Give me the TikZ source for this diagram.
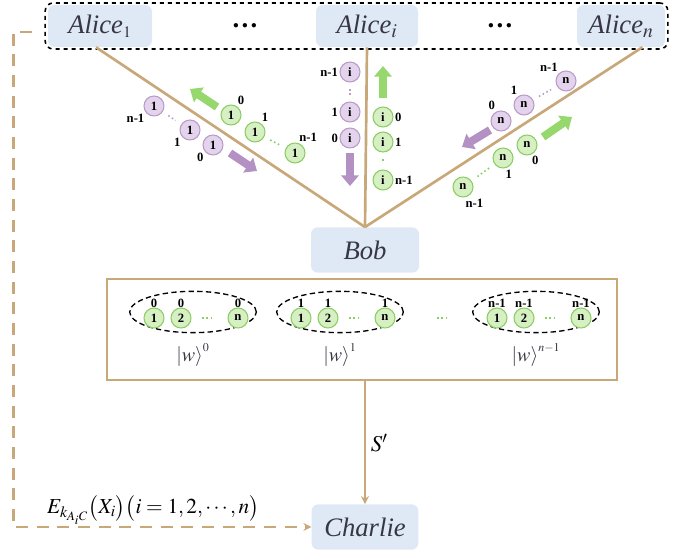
\documentclass[tikz,border=0pt]{standalone}
\usepackage{mathptmx}
\usepackage{fontspec}
\setmainfont{Liberation Serif}
\usetikzlibrary{arrows.meta,shapes.geometric,positioning}

\definecolor{linkbrown}{RGB}{200,168,120}
\definecolor{partyblue}{RGB}{222,233,245}
\definecolor{namegray}{RGB}{55,55,68}
\definecolor{qgreen}{RGB}{214,240,196}
\definecolor{qgreenline}{RGB}{140,205,100}
\definecolor{qpurple}{RGB}{228,211,236}
\definecolor{qpurpleline}{RGB}{185,155,200}
\definecolor{agreen}{RGB}{150,215,110}
\definecolor{apurple}{RGB}{180,145,195}

\tikzset{
  party/.style={fill=partyblue, rounded corners=5pt, minimum height=31.5pt, inner sep=0pt,
    text=namegray, font=\fontsize{20}{24}\selectfont\itshape},
  link/.style={draw=linkbrown, line width=2pt},
  feed/.style={draw=linkbrown, line width=2pt, dash pattern=on 9pt off 6.5pt,
    -{Stealth[length=6pt,width=6pt]}},
  qg/.style={circle, draw=qgreenline, fill=qgreen, line width=0.8pt, minimum size=15pt,
    inner sep=0pt, font=\bfseries\fontsize{9.5}{10}\selectfont},
  qp/.style={qg, draw=qpurpleline, fill=qpurple},
  every label/.style={font=\bfseries\fontsize{9.5}{10}\selectfont, inner sep=1pt},
  gbig/.style={draw=agreen, line width=6pt, -{Triangle[width=13pt,length=8pt]}},
  pbig/.style={draw=apurple, line width=6pt, -{Triangle[width=13pt,length=8pt]}},
  gdots/.style={draw=qgreenline, dotted, line width=1.2pt, shorten <=5pt, shorten >=5pt},
  pdots/.style={draw=qpurpleline, dotted, line width=1.2pt, shorten <=5pt, shorten >=5pt}
}

\begin{document}
\begin{tikzpicture}[x=0.75pt, y=-0.75pt, >=Stealth]
    \useasboundingbox (0,0) rectangle (677,555);

    % Alices
    \node[party, minimum width=78pt] (a1) at (100,26) {Alice$_{\scriptscriptstyle 1}$};
    \node[party, minimum width=76.5pt] (ai) at (367,26) {Alice$_i$};
    \node[party, minimum width=66pt] (an) at (621,26) {Alice$_n$};
    \node[font=\bfseries\fontsize{20}{24}\selectfont] (d1) at (245,26) {\ldots};
    \node[font=\bfseries\fontsize{20}{24}\selectfont] (d2) at (500,26) {\ldots};
    \node[draw, dashed, rounded corners=6pt, line width=1.2pt,
          minimum width=467pt, minimum height=34.5pt] (row) at (356.5,26) {};

    % Bob and Charlie
    \node[party, minimum width=81pt, minimum height=34pt] (bob) at (365,250) {Bob};
    \node[party, minimum width=80pt, minimum height=34pt] (charlie) at (365,527) {Charlie};

    % Channels
    \draw[link] ([xshift=-3pt]a1.south) -- (bob.north);
    \draw[link] (ai.south) -- (bob.north);
    \draw[link] ([xshift=16pt]an.south) -- (bob.north);

    % Left channel
    \node[qg, label={60:0}] (lg0) at (231,115) {1};
    \node[qg, label={60:1}] (lg1) at (255,132) {1};
    \node[qg, label={75:n-1}] (lgn) at (295,153) {1};
    \draw[gdots] (lg1) -- (lgn);
    \node[qp, label={220:n-1}] (lpn) at (154,106) {1};
    \node[qp, label={220:1}] (lp1) at (190,130) {1};
    \node[qp, label={220:0}] (lp0) at (213,145) {1};
    \draw[pdots] (lpn) -- (lp1);
    \draw[gbig] (217,107) -- (190,89);
    \draw[pbig] (230,153) -- (257,171);

    % Middle channel
    \node[qp, label={180:n-1}] (mpn) at (350,72) {i};
    \node[qp, label={180:1}] (mp1) at (350,112) {i};
    \node[qp, label={180:0}] (mp0) at (350,138) {i};
    \draw[pdots] (mpn) -- (mp1);
    \draw[pbig] (350,153) -- (350,186);
    \node[qg, label={0:0}] (mg0) at (383,117) {i};
    \node[qg, label={0:1}] (mg1) at (383,142) {i};
    \node[qg, label={0:n-1}] (mgn) at (383,180) {i};
    \draw[gdots] (mg1) -- (mgn);
    \draw[gbig] (383,98) -- (383,66);

    % Right channel
    \node[qp, label={130:n-1}] (rpn) at (566,81) {n};
    \node[qp, label={120:1}] (rp1) at (524,105) {n};
    \node[qp, label={115:0}] (rp0) at (501,121) {n};
    \draw[pdots] (rp1) -- (rpn);
    \draw[pbig] (490,130) -- (462,147);
    \node[qg, label={-70:0}] (rg0) at (527,145) {n};
    \node[qg, label={-85:1}] (rg1) at (503,158) {n};
    \node[qg, label={-85:n-1}] (rgn) at (463,187) {n};
    \draw[gdots] (rg1) -- (rgn);
    \draw[gbig] (543,137) -- (572,117);

    % Bob's states
    \node[draw=linkbrown, line width=2.2pt, minimum width=382.5pt, minimum height=75.75pt]
        (pool) at (362,329.5) {};
    \foreach \cx/\pw/\k in {193/0/0, 340/1/1, 536/n-1/2} {
        \node[ellipse, draw, dash pattern=on 4pt off 2.5pt, line width=1pt,
              minimum width=95pt, minimum height=31pt] (e\k) at (\cx,312) {};
        \node[qg, label={[label distance=-1.5pt]above:\pw}] (s\k a) at (\cx-39,318) {1};
        \node[qg, label={[label distance=-1.5pt]above:\pw}] (s\k b) at (\cx-12,318) {2};
        \node[qg, label={[label distance=-1.5pt]above:\pw}] (s\k n) at (\cx+45,318) {n};
        \draw[gdots, shorten <=8pt, shorten >=10pt] (s\k b) -- (s\k n);
        \node[font=\fontsize{15}{17}\selectfont, text=namegray] (w\k) at (\cx,355)
            {$\left|w\right\rangle^{\scriptscriptstyle\pw}$};
    }
    \draw[gdots, shorten <=0pt, shorten >=0pt] (437,318) -- (449,318);

    % To Charlie
    \draw[link, -{Stealth[length=6pt,width=6pt]}] (pool.south -| charlie.north) -- (charlie.north)
        node[midway, right, font=\fontsize{17}{20}\selectfont] {$S'$};
    \draw[feed] ([shift={(-9pt,-4.5pt)}]row.west) -- ++(-19,0) |- (charlie.west);
    \node[font=\fontsize{16}{18}\selectfont] (elab) at (153,510)
        {$E_{k_{A_iC}}\bigl(X_i\bigr)\bigl(i=1,2,\cdots,n\bigr)$};
\end{tikzpicture}
\end{document}
